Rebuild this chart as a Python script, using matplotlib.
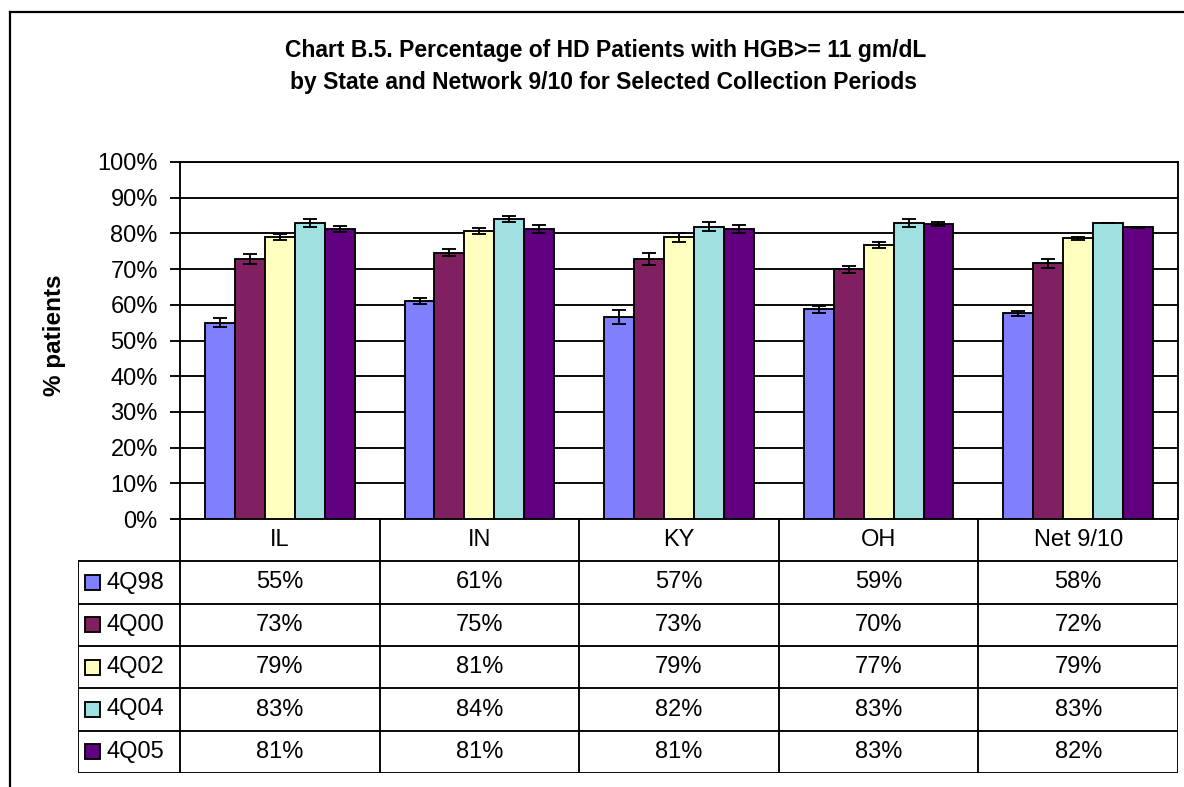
import numpy as np
import matplotlib
matplotlib.use("Agg")
import matplotlib.pyplot as plt
from matplotlib.patches import Rectangle
from matplotlib.lines import Line2D

plt.rcParams['font.family'] = ['Liberation Sans', 'DejaVu Sans']

# data
states = ['IL', 'IN', 'KY', 'OH', 'Net 9/10']
periods = ['4Q98', '4Q00', '4Q02', '4Q04', '4Q05']
pct_4q98 = [55.0, 61.0, 56.6, 58.7, 57.6]
pct_4q00 = [72.8, 74.6, 72.8, 69.9, 71.6]
pct_4q02 = [78.9, 80.6, 78.9, 76.8, 78.6]
pct_4q04 = [82.9, 84.0, 81.9, 82.9, 82.9]
pct_4q05 = [81.2, 81.2, 81.2, 82.6, 81.7]
err_4q98 = [1.2, 0.9, 2.0, 1.1, 0.6]
err_4q00 = [1.3, 1.0, 1.7, 0.9, 1.2]
err_4q02 = [0.8, 0.9, 1.2, 0.9, 0.5]
err_4q04 = [1.2, 0.9, 1.2, 1.2, 0.1]
err_4q05 = [0.9, 1.2, 1.2, 0.6, 0.2]
colors = ['#8080FF', '#802060', '#FFFFC0', '#A0E0E0', '#600080']

series = [pct_4q98, pct_4q00, pct_4q02, pct_4q04, pct_4q05]
errors = [err_4q98, err_4q00, err_4q02, err_4q04, err_4q05]

W, H = 1184, 787
LW = 1.35
fig = plt.figure(figsize=(W / 100, H / 100), dpi=100)

# plot area in pixels
px_l, px_r, px_t, px_b = 180, 1178, 162, 519
ax = fig.add_axes([px_l / W, (H - px_b) / H, (px_r - px_l) / W, (px_b - px_t) / H])

x = np.arange(len(states))
bw = 0.15
for i, (vals, errs) in enumerate(zip(series, errors)):
    ax.bar(x + (i - 2) * bw, vals, bw, color=colors[i], edgecolor='black',
           linewidth=LW, zorder=3)
    ax.errorbar(x + (i - 2) * bw, vals, yerr=errs, fmt='none', ecolor='black',
                elinewidth=LW, capsize=5, capthick=LW, zorder=4)

ax.set_xlim(-0.5, len(states) - 0.5)
ax.set_ylim(0, 100)
ax.set_yticks(np.arange(0, 101, 10))
ax.set_yticklabels([f"{t}%" for t in range(0, 101, 10)], fontsize=17)
ax.yaxis.grid(True, color='black', linewidth=LW)
ax.set_axisbelow(True)
ax.set_xticks([])
ax.tick_params(axis='y', length=7, width=LW, pad=9, direction='out')
for s in ax.spines.values():
    s.set_linewidth(LW)

# data table below the plot
leg_w = 102 / ((px_r - px_l) / len(states))
tb_top, tb_bot, tb_left = 519, 773, 78
tax = fig.add_axes([tb_left / W, (H - tb_bot) / H, (px_r - tb_left) / W, (tb_bot - tb_top) / H])
tax.set_xlim(-0.5 - leg_w, len(states) - 0.5)
tax.set_ylim(len(periods) + 1, 0)
tax.axis('off')
lkw = dict(color='black', linewidth=LW, solid_capstyle='projecting')
for k in range(len(states) + 1):
    tax.plot([k - 0.5, k - 0.5], [0, len(periods) + 1], **lkw)
tax.plot([-0.5 - leg_w, -0.5 - leg_w], [1, len(periods) + 1], **lkw)
for r in range(1, len(periods) + 2):
    tax.plot([-0.5 - leg_w, len(states) - 0.5], [r, r], **lkw)

for j, st in enumerate(states):
    tax.text(j, 0.5, st, ha='center', va='center', fontsize=17)
for i, per in enumerate(periods):
    yc = i + 1.5
    tax.add_patch(Rectangle((-0.5 - leg_w + 0.035, yc - 0.18), 0.075, 0.36,
                            facecolor=colors[i], edgecolor='black', linewidth=LW))
    tax.text(-0.5 - leg_w + 0.145, yc, per, ha='left', va='center', fontsize=17)
    for j in range(len(states)):
        tax.text(j, yc, f"{round(series[i][j])}%", ha='center', va='center', fontsize=17)

# title and y label
fig.text(606 / W, 1 - 50 / H, "Chart B.5. Percentage of HD Patients with HGB>= 11 gm/dL",
         ha='center', va='center', fontsize=16.5, fontweight='bold')
fig.text(604 / W, 1 - 83 / H, "by State and Network 9/10 for Selected Collection Periods",
         ha='center', va='center', fontsize=16.5, fontweight='bold')
fig.text(55 / W, 1 - 335 / H, "% patients", rotation=90, ha='center', va='center',
         fontsize=17.5, fontweight='bold')

# outer chart frame
fig.add_artist(Line2D([10 / W, 10 / W], [0, 1 - 12 / H], color='black', linewidth=1.6))
fig.add_artist(Line2D([10 / W, 1], [1 - 12 / H, 1 - 12 / H], color='black', linewidth=1.6))

fig.savefig("out.png", dpi=100)
